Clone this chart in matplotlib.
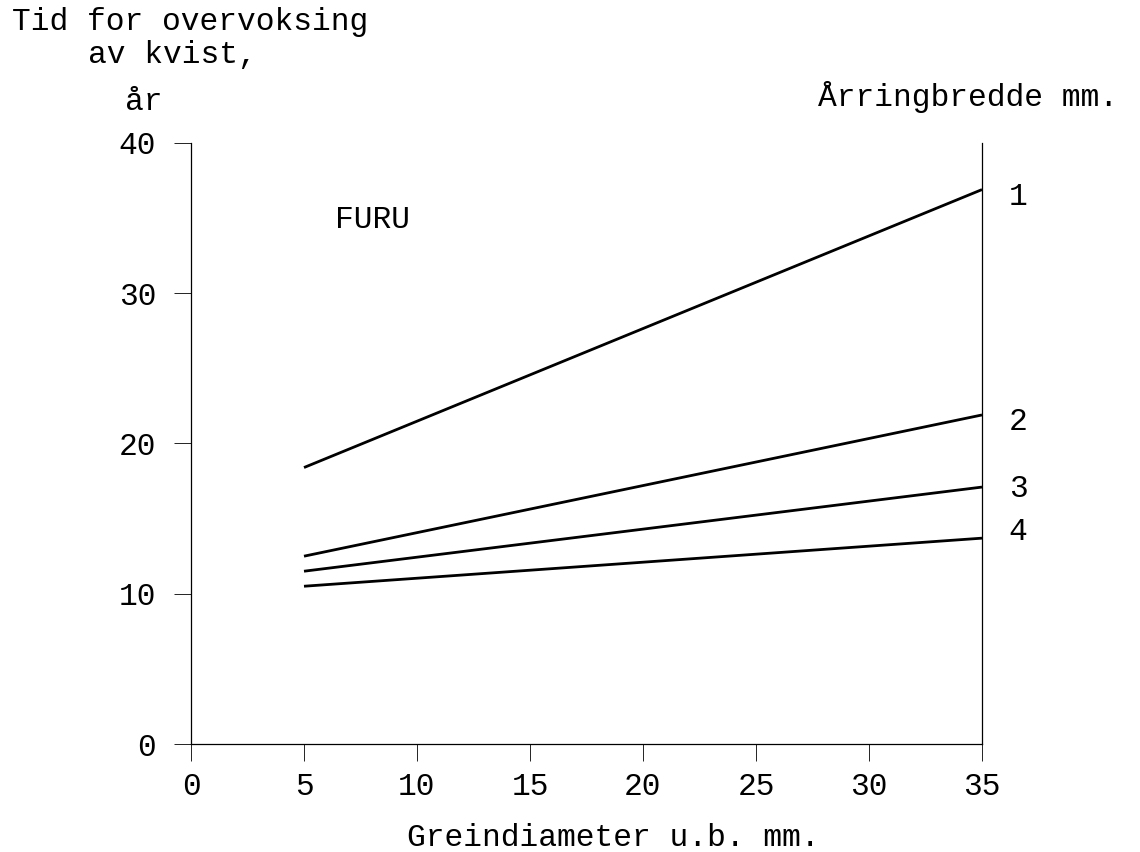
import matplotlib
matplotlib.use("Agg")
import matplotlib.pyplot as plt

plt.rcParams['font.family'] = ['Liberation Mono', 'DejaVu Sans Mono']

# greindiameter (mm) ved start og slutt av hver linje
diameter = [5, 35]
# tid for overvoksing (år) for hver årringbredde
arring_1 = [18.4, 36.9]
arring_2 = [12.5, 21.9]
arring_3 = [11.5, 17.1]
arring_4 = [10.5, 13.7]
serier = [arring_1, arring_2, arring_3, arring_4]
linje_navn = ["1", "2", "3", "4"]
navn_y = [36.4, 21.4, 17.0, 14.1]

x_ticks = [0, 5, 10, 15, 20, 25, 30, 35]
y_ticks = [0, 10, 20, 30, 40]

W, H = 1140, 852
fs = 22.5
fig = plt.figure(figsize=(W / 100, H / 100), dpi=100)
ax = fig.add_axes([191 / W, 1 - 744 / H, (982 - 191) / W, (744 - 143) / H])

for ys in serier:
    ax.plot(diameter, ys, color="black", lw=2.0, solid_capstyle="butt")

for navn, yy in zip(linje_navn, navn_y):
    ax.text(36.6, yy, navn, fontsize=fs, ha="center", va="center", clip_on=False)

ax.text(6.37, 34.9, "FURU", fontsize=fs, ha="left", va="center")

ax.set_xlim(0, 35)
ax.set_ylim(0, 40)
ax.set_xticks(x_ticks)
ax.set_yticks(y_ticks)
ax.tick_params(axis="both", direction="out", length=12, width=0.6, labelsize=fs)
ax.tick_params(axis="x", pad=8)
ax.tick_params(axis="y", pad=13)
ax.spines["top"].set_visible(False)
for s in ["left", "right", "bottom"]:
    ax.spines[s].set_linewidth(0.9)

# tekster utenfor aksene
fig.text(12 / W, 1 - 22 / H, "Tid for overvoksing", fontsize=fs, ha="left", va="center")
fig.text(88 / W, 1 - 55 / H, "av kvist,", fontsize=fs, ha="left", va="center")
fig.text(125 / W, 1 - 102 / H, "år", fontsize=fs, ha="left", va="center")
fig.text(1118 / W, 1 - 97 / H, "Årringbredde mm.", fontsize=fs, ha="right", va="center")
fig.text(613 / W, 1 - 838 / H, "Greindiameter u.b. mm.", fontsize=fs, ha="center", va="center")

fig.savefig("out.png", dpi=100)
